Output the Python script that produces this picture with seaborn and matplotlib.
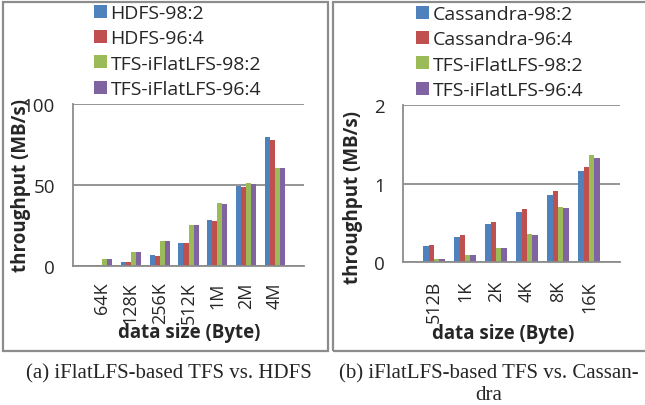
import pandas as pd
import matplotlib.pyplot as plt
import seaborn as sns
from matplotlib.patches import Rectangle

# values (MB/s)
sizes_a = ['64K', '128K', '256K', '512K', '1M', '2M', '4M']
hdfs_98_2 = [0.8, 2.7, 6.6, 14.4, 28.5, 49.5, 79.4]
hdfs_96_4 = [0.8, 2.3, 6.2, 14.0, 27.8, 48.5, 78.0]
tfs_a_98_2 = [4.5, 8.5, 15.3, 25.4, 38.8, 51.1, 60.8]
tfs_a_96_4 = [4.5, 8.5, 15.3, 25.2, 38.4, 50.5, 60.2]
labels_a = ['HDFS-98:2', 'HDFS-96:4', 'TFS-iFlatLFS-98:2', 'TFS-iFlatLFS-96:4']

sizes_b = ['512B', '1K', '2K', '4K', '8K', '16K']
cass_98_2 = [0.21, 0.32, 0.48, 0.64, 0.85, 1.16]
cass_96_4 = [0.22, 0.34, 0.51, 0.68, 0.90, 1.21]
tfs_b_98_2 = [0.04, 0.09, 0.18, 0.36, 0.70, 1.36]
tfs_b_96_4 = [0.04, 0.09, 0.18, 0.35, 0.69, 1.33]
labels_b = ['Cassandra-98:2', 'Cassandra-96:4', 'TFS-iFlatLFS-98:2', 'TFS-iFlatLFS-96:4']

colors = ['#4F81BD', '#C0504D', '#9BBB59', '#8064A2']
GREY = '#8c8c8c'

sns.set_theme(style='white')
plt.rcParams['font.family'] = ['Open Sans', 'DejaVu Sans']

W, H = 645, 406
fig = plt.figure(figsize=(W / 100, H / 100), dpi=100)


def to_long(sizes, series, labels):
    frames = []
    for vals, lab in zip(series, labels):
        frames.append(pd.DataFrame({'size': sizes, 'throughput': vals, 'system': lab}))
    return pd.concat(frames, ignore_index=True)


def px_axes(x0, x1, ytop, ybot):
    return fig.add_axes([x0 / W, (H - ybot) / H, (x1 - x0) / W, (ybot - ytop) / H])


def draw(ax, sizes, series, labels, ymax, legend_xy, xlabel_xy, ylabel_xy, xpad):
    df = to_long(sizes, series, labels)
    sns.barplot(data=df, x='size', y='throughput', hue='system', hue_order=labels,
                palette=colors, saturation=1, width=0.7, linewidth=0,
                errorbar=None, ax=ax)
    n = len(sizes)
    ax.set_xlim(-1, n)
    ax.set_xticks(range(-1, n + 1))
    ax.set_xticklabels([''] + sizes + [''], rotation=90, fontsize=13)
    ax.set_ylim(0, ymax)
    ax.set_yticks([0, ymax / 2, ymax])
    ax.set_yticklabels([f'{v:g}' for v in [0, ymax / 2, ymax]], fontsize=13.5)
    ax.tick_params(axis='x', direction='out', length=5, width=1.2, color=GREY, pad=xpad)
    ax.tick_params(axis='y', direction='inout', length=8, width=1.2, color=GREY, pad=9)
    ax.grid(axis='y', color=GREY, linewidth=1.3)
    ax.set_axisbelow(True)
    for s in ['top', 'right']:
        ax.spines[s].set_visible(False)
    for s in ['left', 'bottom']:
        ax.spines[s].set_color(GREY)
        ax.spines[s].set_linewidth(1.3)

    ax.set_xlabel('data size (Byte)', fontsize=13.5, fontweight='bold', va='center')
    ax.xaxis.set_label_coords(*xlabel_xy)
    ax.set_ylabel('throughput (MB/s)', fontsize=13.5, fontweight='bold', va='center')
    ax.yaxis.set_label_coords(*ylabel_xy)

    handles, labs = ax.get_legend_handles_labels()
    ax.legend(handles, labs, loc='upper left', bbox_to_anchor=(legend_xy[0] / W, 1 - legend_xy[1] / H),
              bbox_transform=fig.transFigure, frameon=False, fontsize=14, borderpad=0,
              borderaxespad=0, handlelength=0.65, handleheight=0.65, handletextpad=0.2,
              labelspacing=0.38)


ax1 = px_axes(73, 304, 105, 267)
draw(ax1, sizes_a, [hdfs_98_2, hdfs_96_4, tfs_a_98_2, tfs_a_96_4], labels_a, 100,
     (94, 5), (0.502, -0.41), (-0.225, 0.5), 6)

ax2 = px_axes(403, 620, 106, 263)
draw(ax2, sizes_b, [cass_98_2, cass_96_4, tfs_b_98_2, tfs_b_96_4], labels_b, 2,
     (416, 6), (0.46, -0.45), (-0.23, 0.42), 8)

# panel frames
fig.patches.append(Rectangle((3 / W, (H - 352) / H), 325 / W, 349 / H, transform=fig.transFigure,
                             fill=False, edgecolor=GREY, linewidth=1.6))
fig.patches.append(Rectangle((333 / W, (H - 352) / H), 320 / W, 349 / H, transform=fig.transFigure,
                             fill=False, edgecolor=GREY, linewidth=1.6))

# captions
cap = dict(fontsize=15, family='Liberation Serif', ha='center', va='center')
fig.text(169 / W, 1 - 374 / H, '(a) iFlatLFS-based TFS vs. HDFS', **cap)
fig.text(489 / W, 1 - 374 / H, '(b) iFlatLFS-based TFS vs. Cassan-', **cap)
fig.text(489 / W, 1 - 396 / H, 'dra', **cap)

fig.savefig('out.png', dpi=100)
